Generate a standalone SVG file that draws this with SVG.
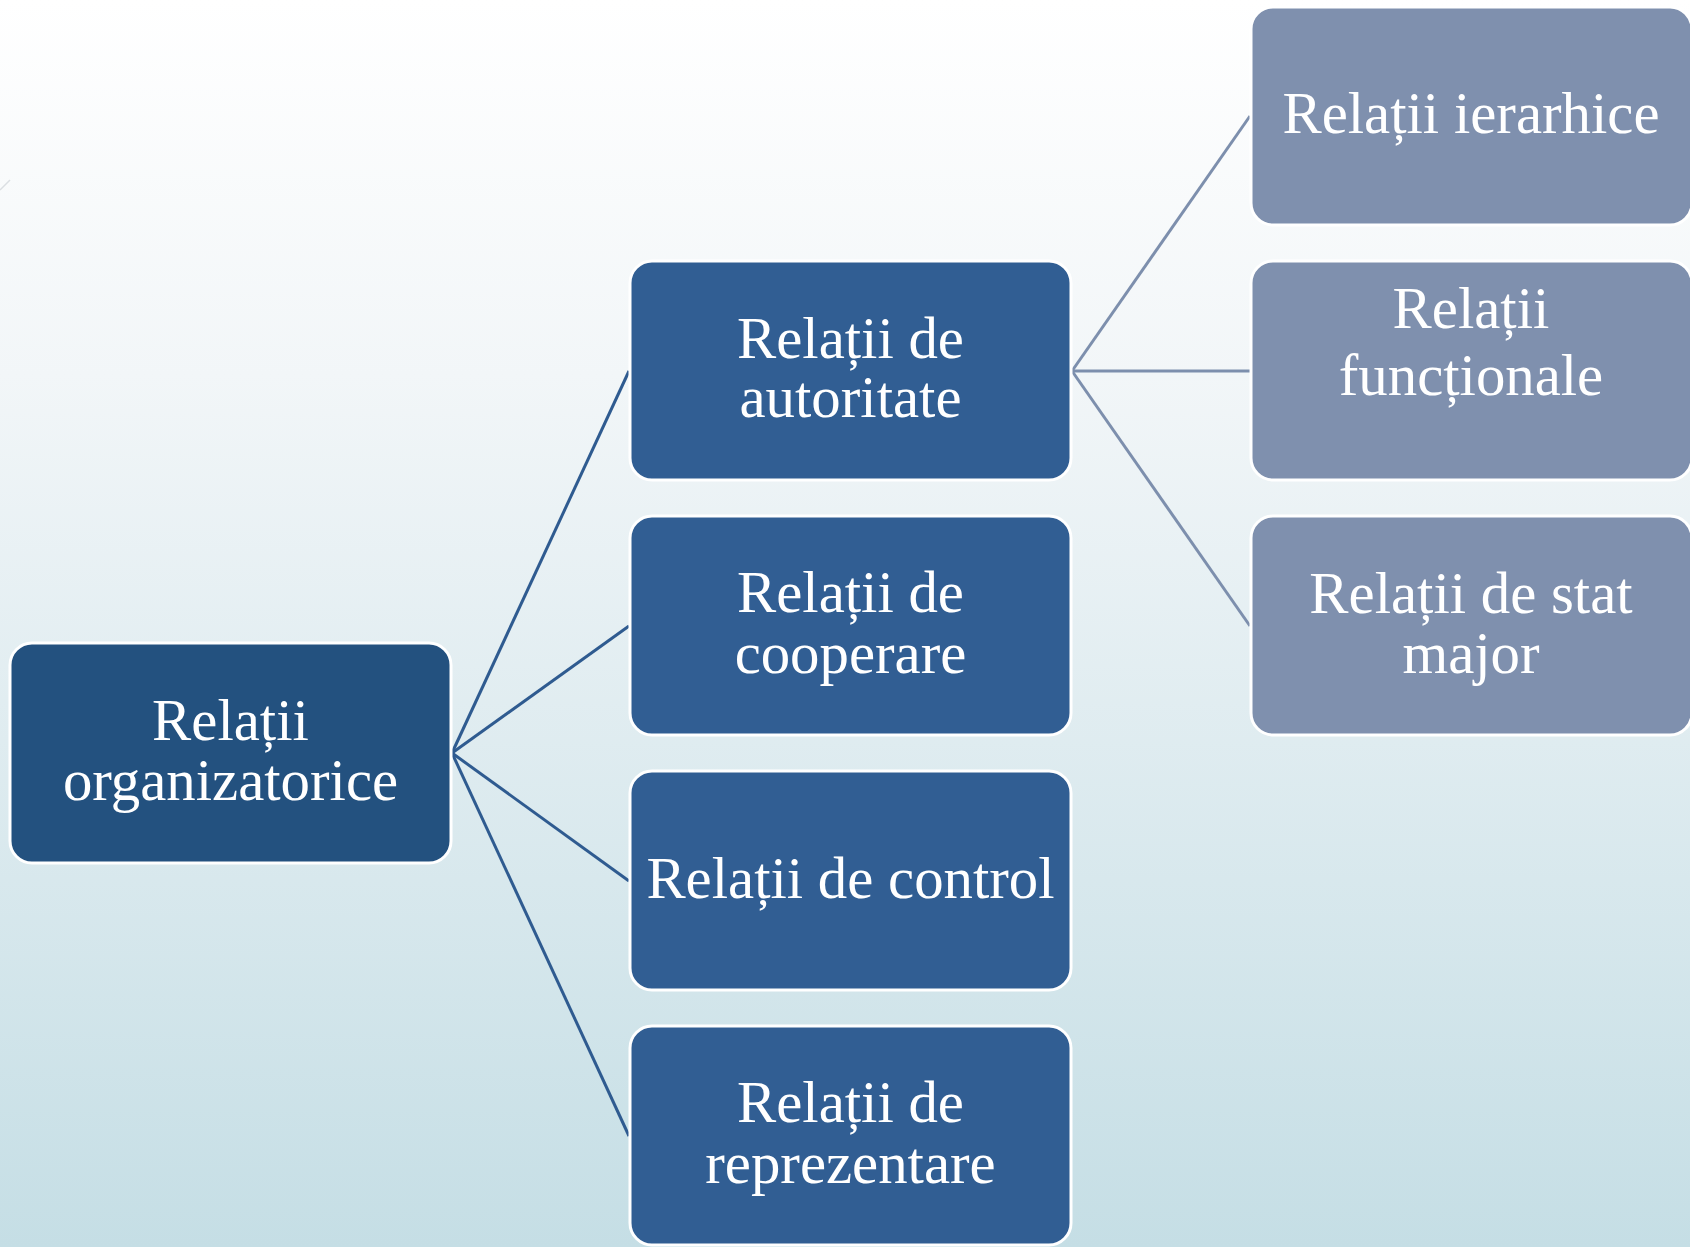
<svg xmlns="http://www.w3.org/2000/svg" width="1690" height="1247" viewBox="0 0 1690 1247">
<defs>
<linearGradient id="bg" x1="0" y1="0" x2="0" y2="1">
<stop offset="0" stop-color="#ffffff"/>
<stop offset="0.3" stop-color="#f2f6f8"/>
<stop offset="1" stop-color="#c5dee5"/>
</linearGradient>
<style>
.box{stroke:#ffffff;stroke-width:3}
.l0{fill:#23517f}
.l1{fill:#315e93}
.l2{fill:#7f90ae}
text{font-family:"Liberation Serif","Times New Roman",serif;font-size:58.8px;fill:#ffffff;text-anchor:middle}
.c1{stroke:#2f5b90;stroke-width:3;fill:none}
.c2{stroke:#7d8fad;stroke-width:3;fill:none}
</style>
</defs>
<rect x="0" y="0" width="1690" height="1247" fill="url(#bg)"/>
<line x1="0" y1="190" x2="10" y2="180" stroke="#c8cdd3" stroke-width="1.5" opacity="0.6"/>
<g id="connectors">
<line class="c1" x1="452" y1="753" x2="629" y2="371"/>
<line class="c1" x1="452" y1="753" x2="629" y2="626"/>
<line class="c1" x1="452" y1="753" x2="629" y2="881"/>
<line class="c1" x1="452" y1="753" x2="629" y2="1136"/>
<line class="c2" x1="1072" y1="371" x2="1250" y2="116"/>
<line class="c2" x1="1072" y1="371" x2="1250" y2="371"/>
<line class="c2" x1="1072" y1="371" x2="1250" y2="626"/>
</g>
<g id="n-organizatorice">
<rect class="box l0" x="10" y="643" width="441" height="220" rx="22"/>
<text x="230.5" y="740">Relații</text>
<text x="230.5" y="800">organizatorice</text>
</g>
<g id="n-autoritate">
<rect class="box l1" x="630" y="261" width="441" height="219" rx="22"/>
<text x="850.5" y="358">Relații de</text>
<text x="850.5" y="417">autoritate</text>
</g>
<g id="n-cooperare">
<rect class="box l1" x="630" y="516" width="441" height="219" rx="22"/>
<text x="850.5" y="612">Relații de</text>
<text x="850.5" y="673">cooperare</text>
</g>
<g id="n-control">
<rect class="box l1" x="630" y="771" width="441" height="219" rx="22"/>
<text x="850.5" y="898">Relații de control</text>
</g>
<g id="n-reprezentare">
<rect class="box l1" x="630" y="1026" width="441" height="219" rx="22"/>
<text x="850.5" y="1122">Relații de</text>
<text x="850.5" y="1183">reprezentare</text>
</g>
<g id="n-ierarhice">
<rect class="box l2" x="1251" y="7" width="441" height="218" rx="22"/>
<text x="1471" y="133">Relații ierarhice</text>
</g>
<g id="n-functionale">
<rect class="box l2" x="1251" y="261" width="441" height="219" rx="22"/>
<text x="1471" y="328">Relații</text>
<text x="1471" y="395">funcționale</text>
</g>
<g id="n-stat-major">
<rect class="box l2" x="1251" y="516" width="441" height="219" rx="22"/>
<text x="1471" y="613">Relații de stat</text>
<text x="1471" y="673">major</text>
</g>
</svg>
